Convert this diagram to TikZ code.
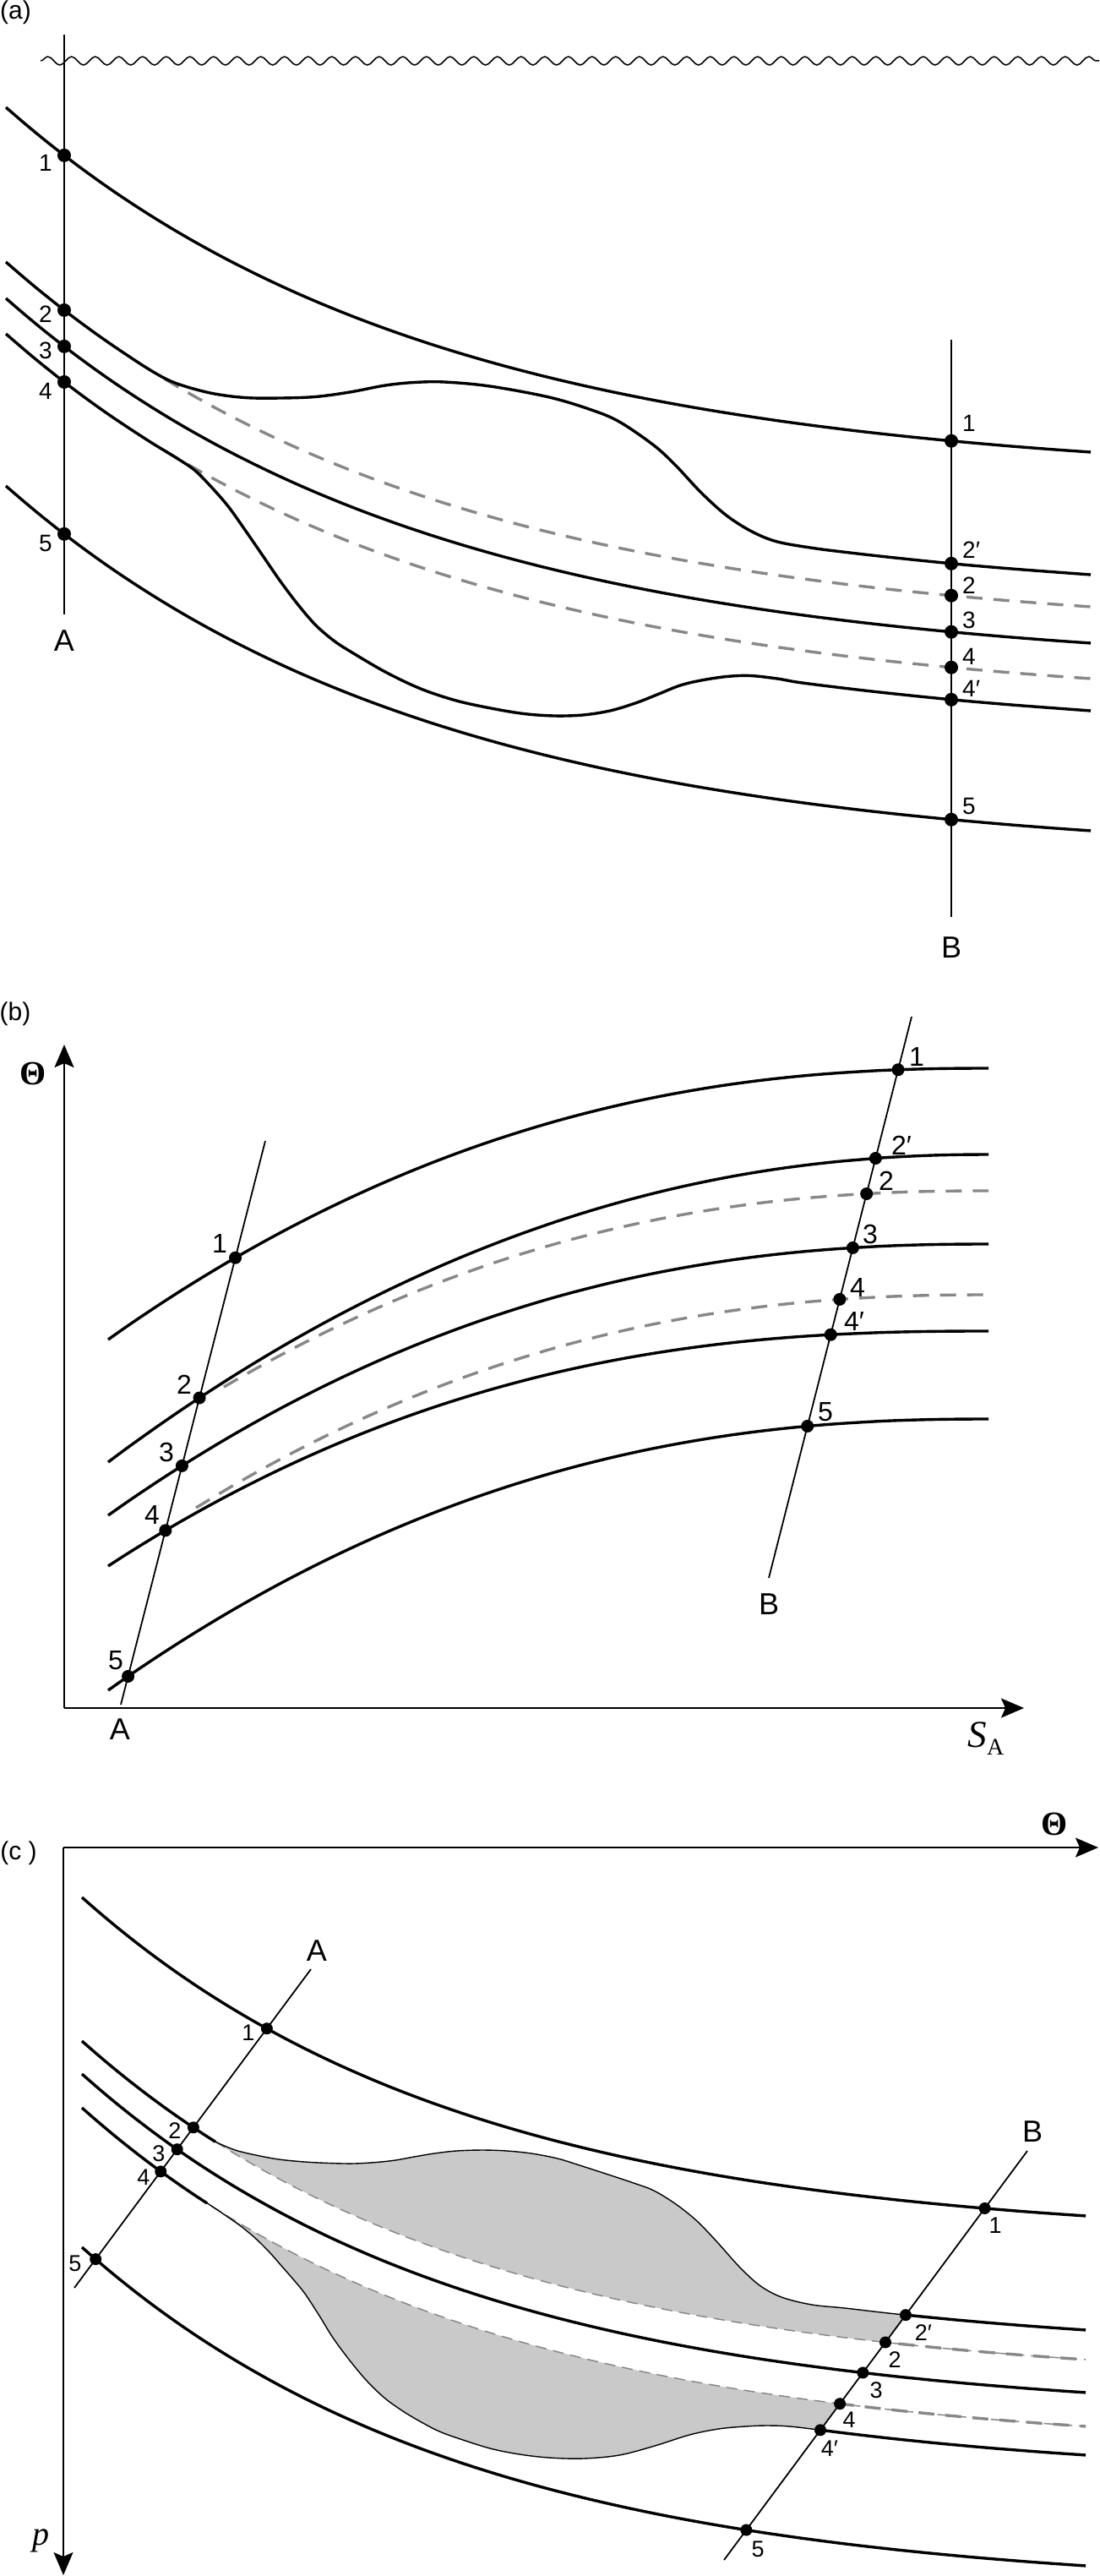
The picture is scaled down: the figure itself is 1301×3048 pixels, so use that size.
\documentclass[tikz,border=0pt]{standalone}
\usepackage{fontspec}
\setmainfont{Liberation Sans}
\newfontfamily\serifface{Liberation Serif}
\usetikzlibrary{arrows.meta,intersections,decorations.pathmorphing}
\definecolor{dgray}{HTML}{888888}
\definecolor{shadegray}{HTML}{C9C9C9}
\begin{document}
\begin{tikzpicture}[x=1pt,y=-1pt,
  curve/.style={line width=3.4pt, line join=round},
  thinline/.style={line width=1.8pt},
  thinb/.style={line width=1.4pt},
  gdash/.style={line width=3.4pt, draw=dgray, dash pattern=on 19pt off 13pt},
  gdashthin/.style={line width=1.5pt, draw=dgray, dash pattern=on 13pt off 8pt},
  wave/.style={line width=1.5pt, decorate, decoration={snake, segment length=28pt, amplitude=5pt}},
  dota/.style={circle, fill=black, inner sep=0pt, minimum size=16pt},
  dotb/.style={circle, fill=black, inner sep=0pt, minimum size=15pt},
  dotc/.style={circle, fill=black, inner sep=0pt, minimum size=14pt},
  lab/.style={font=\fontsize{28}{30}\selectfont, inner sep=0pt},
  labc/.style={font=\fontsize{27}{29}\selectfont, inner sep=0pt},
  blab/.style={font=\fontsize{32}{34}\selectfont, inner sep=0pt},
  big/.style={font=\fontsize{36}{38}\selectfont, inner sep=0pt},
  plab/.style={font=\fontsize{30}{32}\selectfont, inner sep=0pt},
  thlab/.style={font=\serifface\bfseries\fontsize{40}{42}\selectfont, inner sep=0pt},
  axis/.style={line width=2pt, -{Stealth[length=27pt,width=23pt,inset=5pt]}},
  shadefill/.style={fill=shadegray},
  declare function={
    Sa(\x)=441.9*(1-exp(-0.002*(\x-7)));
    Fb(\x)=321*exp(2.3*ln(max((1170-\x)/1042,0.0001)));
    Fbp(\x)=364*exp(2.14*ln(max((1170-\x)/1042,0.0001)));
    Fbq(\x)=278*exp(2.44*ln(max((1170-\x)/1042,0.0001)));
    Gc(\x)=406.8*(1-exp(-0.0022*(\x-97)));
  }]
\path[use as bounding box, fill=white] (0,0) rectangle (1301,3048);

%%%%%%%%%%%%%%%%%%%%%% (a)
\node[plab, anchor=north west] (pa) at (0,1) {(a)};
\coordinate (wL) at (48,72);
\coordinate (wR) at (1301,72);
\draw[wave] (wL) -- (wR);

\draw[curve, name path=a1] plot[domain=7:1291, samples=60, smooth] (\x,{127+Sa(\x)});
\draw[curve, name path=a3] plot[domain=7:1291, samples=60, smooth] (\x,{353+Sa(\x)});
\draw[curve, name path=a5] plot[domain=7:1291, samples=60, smooth] (\x,{575+Sa(\x)});
\draw[gdash, name path=ad2] plot[domain=195:1291, samples=50, smooth] (\x,{310+Sa(\x)});
\draw[gdash, name path=ad4] plot[domain=195:1291, samples=50, smooth] (\x,{395+Sa(\x)});
\draw[curve, name path=a2p] plot[smooth, tension=0.55] coordinates {(7,310) (40,338.2) (76,367) (110,392.3) (140,413.2) (178,438) (207,453) (249,465) (290,470.5) (332,471) (373,469.5) (414,464) (456,456) (490,452.5) (526,452) (580,457) (650,470) (700,485) (733,499) (774,527) (800,551) (830,583) (860,610) (890,629) (920,641) (963,648.6) (1000,653.3) (1050,659) (1126,666.8) (1200,673.2) (1291,680)};
\draw[curve, name path=a4p] plot[smooth, tension=0.55] coordinates {(7,395) (40,423.2) (76,452) (110,477.3) (140,498.2) (178,523) (207,540.7) (230,556) (249,575) (270,599) (290,627) (310,656) (332,688) (354,717) (374,740) (395,758) (415,771) (456,795) (498,815) (540,829) (581,838) (620,844.5) (656,847) (690,846) (722,841) (752,832) (780,821) (805,811) (830,805) (860,800.5) (888,799.5) (920,803) (946,807.5) (1000,814.3) (1050,820) (1126,827.8) (1200,834.2) (1291,841)};

\coordinate (aAt) at (76,41);
\coordinate (aAb) at (76,727);
\coordinate (aBt) at (1126,402);
\coordinate (aBb) at (1126,1085);
\draw[thinline, name path=aA] (aAt) -- (aAb);
\draw[thinline, name path=aB] (aBt) -- (aBb);
\node[big] (aAl) at (76,758) {A};
\node[big] (aBl) at (1126,1121) {B};

\path[name intersections={of=aA and a1, by=iaA1}];
\path[name intersections={of=aA and a2p, by=iaA2}];
\path[name intersections={of=aA and a3, by=iaA3}];
\path[name intersections={of=aA and a4p, by=iaA4}];
\path[name intersections={of=aA and a5, by=iaA5}];
\path[name intersections={of=aB and a1, by=iaB1}];
\path[name intersections={of=aB and a2p, by=iaB2p}];
\path[name intersections={of=aB and ad2, by=iaB2}];
\path[name intersections={of=aB and a3, by=iaB3}];
\path[name intersections={of=aB and ad4, by=iaB4}];
\path[name intersections={of=aB and a4p, by=iaB4p}];
\path[name intersections={of=aB and a5, by=iaB5}];
\foreach \n in {iaA1,iaA2,iaA3,iaA4,iaA5,iaB1,iaB2p,iaB2,iaB3,iaB4,iaB4p,iaB5}{
  \node[dota] (d\n) at (\n) {};
}
\node[lab] (laA1) at (54,193) {1};
\node[lab] (laA2) at (54,372) {2};
\node[lab] (laA3) at (54,415) {3};
\node[lab] (laA4) at (54,463) {4};
\node[lab] (laA5) at (54,643) {5};
\node[lab, anchor=west] (laB1) at (1139,501) {1};
\node[lab, anchor=west] (laB2p) at (1139,651) {2′};
\node[lab, anchor=west] (laB2) at (1139,693) {2};
\node[lab, anchor=west] (laB3) at (1139,734) {3};
\node[lab, anchor=west] (laB4) at (1139,777) {4};
\node[lab, anchor=west] (laB4p) at (1139,815) {4′};
\node[lab, anchor=west] (laB5) at (1139,954) {5};

%%%%%%%%%%%%%%%%%%%%%% (b)
\node[plab] (pb) at (18,1200) {(b)};
\coordinate (bO) at (76,2021);
\coordinate (bY) at (76,1236);
\coordinate (bX) at (1212,2021);
\draw[axis] (bO) -- (bY);
\draw[axis] (bO) -- (bX);
\node[thlab] (bth) at (39,1270) {Θ};
\node[inner sep=0pt] (bsa) at (1167,2057) {\serifface\fontsize{45}{45}\selectfont\itshape S\raisebox{-9pt}{\fontsize{28}{28}\selectfont\upshape A}};

\draw[curve, name path=b1] plot[domain=128:1170, samples=50, smooth] (\x,{1264+Fb(\x)});
\draw[curve, name path=b2p] plot[domain=128:1170, samples=50, smooth] (\x,{1366+Fbp(\x)});
\draw[gdash, name path=bd2] plot[domain=265:1170, samples=45, smooth] (\x,{1409+Fb(\x)});
\draw[curve, name path=b3] plot[domain=128:1170, samples=50, smooth] (\x,{1472+Fb(\x)});
\draw[gdash, name path=bd4] plot[domain=232:1170, samples=45, smooth] (\x,{1532+Fb(\x)});
\draw[curve, name path=b4p] plot[domain=128:1170, samples=50, smooth] (\x,{1575+Fbq(\x)});
\draw[curve, name path=b5] plot[domain=128:1170, samples=50, smooth] (\x,{1679+Fb(\x)});

\coordinate (bAt) at (314,1350);
\coordinate (bAb) at (143,2017);
\coordinate (bBt) at (1079,1203);
\coordinate (bBb) at (910,1867);
\draw[thinline, name path=bA] (bAt) -- (bAb);
\draw[thinline, name path=bB] (bBt) -- (bBb);
\node[big] (bAl) at (142,2046) {A};
\node[big] (bBl) at (910,1898) {B};

\path[name intersections={of=bA and b1, by=ibA1}];
\path[name intersections={of=bA and b2p, by=ibA2}];
\path[name intersections={of=bA and b3, by=ibA3}];
\path[name intersections={of=bA and b4p, by=ibA4}];
\path[name intersections={of=bA and b5, by=ibA5}];
\path[name intersections={of=bB and b1, by=ibB1}];
\path[name intersections={of=bB and b2p, by=ibB2p}];
\path[name intersections={of=bB and bd2, by=ibB2}];
\path[name intersections={of=bB and b3, by=ibB3}];
\path[name intersections={of=bB and bd4, by=ibB4}];
\path[name intersections={of=bB and b4p, by=ibB4p}];
\path[name intersections={of=bB and b5, by=ibB5}];
\foreach \n in {ibA1,ibA2,ibA3,ibA4,ibA5,ibB1,ibB2p,ibB2,ibB3,ibB4,ibB4p,ibB5}{
  \node[dotb] (d\n) at (\n) {};
}
\node[blab] (lbA1) at (260,1471) {1};
\node[blab] (lbA2) at (218,1638) {2};
\node[blab] (lbA3) at (197,1718) {3};
\node[blab] (lbA4) at (180,1792) {4};
\node[blab] (lbA5) at (137,1965) {5};
\node[blab] (lbB1) at (1085,1250) {1};
\node[blab] (lbB2p) at (1067,1355) {2′};
\node[blab] (lbB2) at (1049,1397) {2};
\node[blab] (lbB3) at (1030,1460) {3};
\node[blab] (lbB4) at (1015,1523) {4};
\node[blab] (lbB4p) at (1011,1563) {4′};
\node[blab] (lbB5) at (977,1671) {5};

%%%%%%%%%%%%%%%%%%%%%% (c)
\node[plab] (pc) at (22,2193) {(c )};
\coordinate (cO) at (75,2186);
\coordinate (cX) at (1300,2186);
\coordinate (cY) at (75,3047);
\draw[axis] (cO) -- (cX);
\draw[axis] (cO) -- (cY);
\node[thlab] (cth) at (1248,2158) {Θ};
\node[inner sep=0pt] (cp) at (48,3006) {\serifface\fontsize{40}{40}\selectfont\itshape p};

% shaded regions, left of B
\begin{scope}
\clip (0,2186) -- (1482,2186) -- (843,3048) -- (0,3048) -- cycle;
\fill[shadefill] plot[smooth, tension=0.55] coordinates {(250,2531.3) (261,2537) (280,2544.5) (303,2550) (330,2555) (361,2558) (390,2559.5) (418,2560) (445,2558.5) (468,2556) (490,2552) (514,2548) (540,2545) (571,2544) (600,2545) (629,2548) (660,2554) (686,2562) (720,2573) (750,2583) (774,2592) (800,2608) (825,2628) (849,2653) (875,2682) (899,2704) (925,2718) (961,2727) (1000,2731) (1050,2736.8) (1100,2742) (1150,2746.7) (1200,2750.9) (1285,2757)} -- plot[domain=1285:250, samples=50] (\x,{2415+Gc(\x)}) -- cycle;
\fill[shadefill] plot[smooth, tension=0.55] coordinates {(250,2610.3) (265,2620) (285,2634) (303,2649) (320,2666) (334,2682) (348,2698) (361,2714) (378,2740) (394,2766) (414,2793) (435,2818) (456,2838) (477,2853) (497,2865) (518,2876) (539,2884) (580,2897) (615,2904) (650,2908) (690,2909) (733,2905) (775,2894) (816,2881) (850,2874) (882,2871) (910,2870) (940,2871.5) (1000,2879) (1050,2884.8) (1100,2890) (1150,2894.7) (1200,2898.9) (1285,2905)} -- plot[domain=1285:250, samples=50] (\x,{2494+Gc(\x)}) -- cycle;
\end{scope}

\draw[curve, name path=c1] plot[domain=97:1285, samples=60, smooth] (\x,{2245+Gc(\x)});
\draw[curve, name path=c3] plot[domain=97:1285, samples=60, smooth] (\x,{2454+Gc(\x)});
\draw[curve, name path=c5] plot[domain=97:1285, samples=60, smooth] (\x,{2659+Gc(\x)});
\draw[curve, name path=c2] plot[domain=97:255, samples=12, smooth] (\x,{2415+Gc(\x)});
\draw[curve, name path=c4] plot[domain=97:245, samples=12, smooth] (\x,{2494+Gc(\x)});
\draw[gdashthin, name path=cd2] plot[domain=255:1285, samples=50, smooth] (\x,{2415+Gc(\x)});
\draw[gdashthin, name path=cd4] plot[domain=250:1285, samples=50, smooth] (\x,{2494+Gc(\x)});
\draw[thinb, name path=c2p] plot[smooth, tension=0.55] coordinates {(250,2531.3) (261,2537) (280,2544.5) (303,2550) (330,2555) (361,2558) (390,2559.5) (418,2560) (445,2558.5) (468,2556) (490,2552) (514,2548) (540,2545) (571,2544) (600,2545) (629,2548) (660,2554) (686,2562) (720,2573) (750,2583) (774,2592) (800,2608) (825,2628) (849,2653) (875,2682) (899,2704) (925,2718) (961,2727) (1000,2731) (1050,2736.8) (1100,2742) (1150,2746.7) (1200,2750.9) (1285,2757)};
\draw[thinb, name path=c4p] plot[smooth, tension=0.55] coordinates {(245,2606.6) (265,2620) (285,2634) (303,2649) (320,2666) (334,2682) (348,2698) (361,2714) (378,2740) (394,2766) (414,2793) (435,2818) (456,2838) (477,2853) (497,2865) (518,2876) (539,2884) (580,2897) (615,2904) (650,2908) (690,2909) (733,2905) (775,2894) (816,2881) (850,2874) (882,2871) (910,2870) (940,2871.5) (1000,2879) (1050,2884.8) (1100,2890) (1150,2894.7) (1200,2898.9) (1285,2905)};
% thick parts right of B
\begin{scope}
\clip (1482,2186) -- (2000,2186) -- (2000,3048) -- (843,3048) -- cycle;
\draw[curve] plot[domain=961:1285, samples=20, smooth] (\x,{2380+Gc(\x)});
\draw[curve] plot[domain=940:1285, samples=20, smooth] (\x,{2528+Gc(\x)});
\draw[gdash] plot[domain=1000:1285, samples=20, smooth] (\x,{2415+Gc(\x)});
\draw[gdash] plot[domain=960:1285, samples=20, smooth] (\x,{2494+Gc(\x)});
\end{scope}

\coordinate (cAt) at (368,2330);
\coordinate (cAb) at (88,2707);
\coordinate (cBt) at (1216,2545);
\coordinate (cBb) at (857,3029);
\draw[thinline, name path=cA] (cAt) -- (cAb);
\draw[thinline, name path=cB] (cBt) -- (cBb);
\node[big] (cAl) at (375,2308) {A};
\node[big] (cBl) at (1222,2522) {B};

\path[name intersections={of=cA and c1, by=icA1}];
\path[name intersections={of=cA and c2, by=icA2}];
\path[name intersections={of=cA and c3, by=icA3}];
\path[name intersections={of=cA and c4, by=icA4}];
\path[name intersections={of=cA and c5, by=icA5}];
\path[name intersections={of=cB and c1, by=icB1}];
\path[name intersections={of=cB and c2p, by=icB2p}];
\path[name intersections={of=cB and cd2, by=icB2}];
\path[name intersections={of=cB and c3, by=icB3}];
\path[name intersections={of=cB and cd4, by=icB4}];
\path[name intersections={of=cB and c4p, by=icB4p}];
\path[name intersections={of=cB and c5, by=icB5}];
\foreach \n in {icA1,icA2,icA3,icA4,icA5,icB1,icB2p,icB2,icB3,icB4,icB4p,icB5}{
  \node[dotc] (d\n) at (\n) {};
}
\node[labc] (lcA1) at (294,2405) {1};
\node[labc] (lcA2) at (207,2521) {2};
\node[labc] (lcA3) at (188,2548) {3};
\node[labc] (lcA4) at (170,2576) {4};
\node[labc] (lcA5) at (89,2678) {5};
\node[labc] (lcB1) at (1178,2633) {1};
\node[labc] (lcB2p) at (1093,2760) {2′};
\node[labc] (lcB2) at (1059,2792) {2};
\node[labc] (lcB3) at (1037,2828) {3};
\node[labc] (lcB4) at (1005,2863) {4};
\node[labc] (lcB4p) at (982,2897) {4′};
\node[labc] (lcB5) at (897,3016) {5};
\end{tikzpicture}
\end{document}
